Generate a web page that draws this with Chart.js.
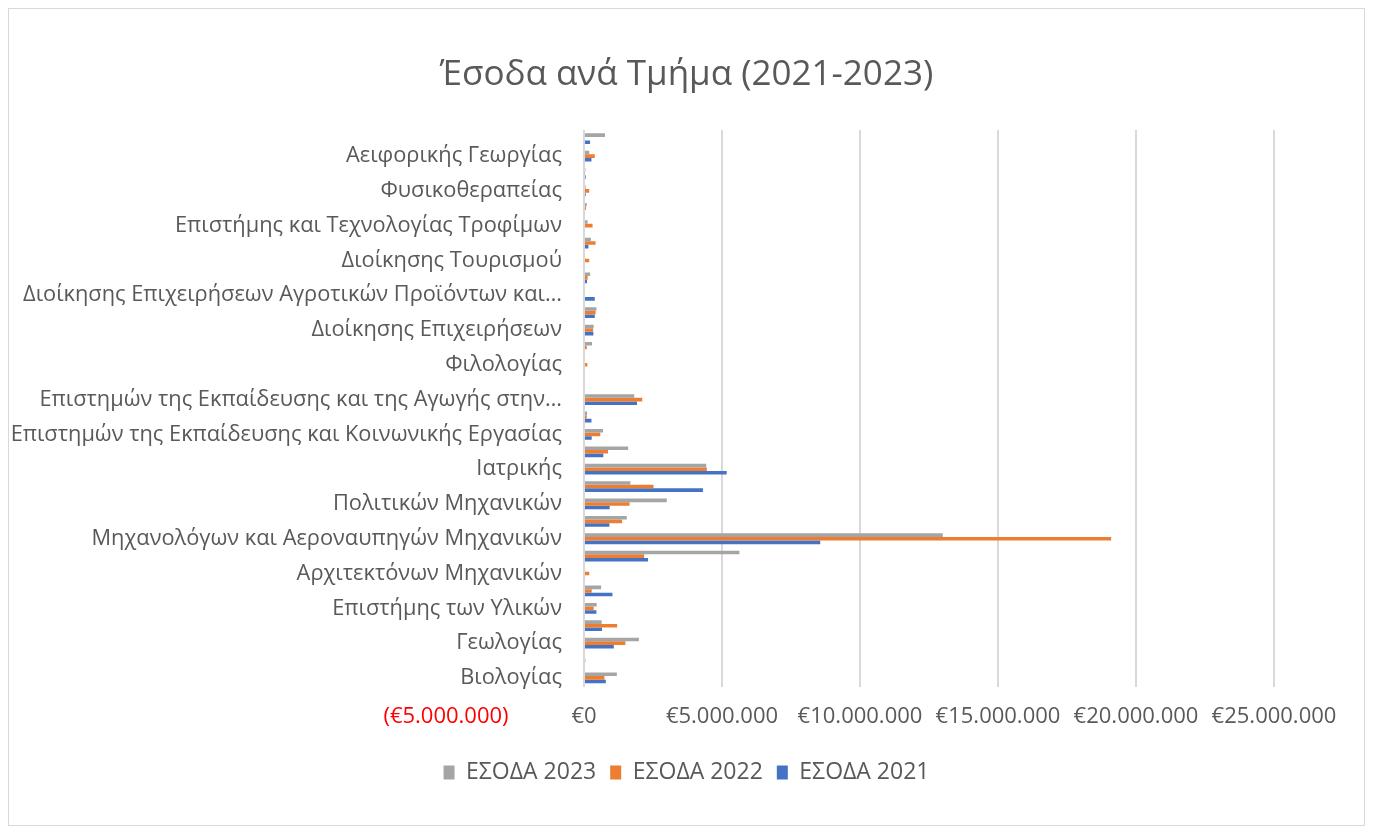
<!DOCTYPE html>
<html>
<head>
<meta charset="utf-8">
<script src="https://cdn.jsdelivr.net/npm/chart.js@4.4.0/dist/chart.umd.min.js"></script>
<style>
  html, body { margin: 0; padding: 0; background: #fff; }
  #wrap { position: relative; width: 1373px; height: 834px; }
  #frame { position: absolute; left: 8px; top: 8px; width: 1355px; height: 816px; border: 1px solid #d9d9d9; }
  canvas { position: absolute; left: 0; top: 0; }
</style>
</head>
<body>
<div id="wrap">
  <div id="frame"></div>
  <canvas id="chart" width="1373" height="834"></canvas>
</div>
<script>
// departments, bottom to top as in the sheet (only every other one gets a label)
const departments = [
    "Βιολογίας",
    "Μαθηματικών",
    "Γεωλογίας",
    "Φυσικής",
    "Επιστήμης των Υλικών",
    "Χημείας",
    "Αρχιτεκτόνων Μηχανικών",
    "Ηλεκτρολόγων Μηχανικών και Τεχνολογίας Υπολογιστών",
    "Μηχανολόγων και Αεροναυπηγών Μηχανικών",
    "Μηχανικών Η/Υ και Πληροφορικής",
    "Πολιτικών Μηχανικών",
    "Χημικών Μηχανικών",
    "Ιατρικής",
    "Φαρμακευτικής",
    "Επιστημών της Εκπαίδευσης και Κοινωνικής Εργασίας",
    "Θεατρικών Σπουδών",
    "Επιστημών της Εκπαίδευσης και της Αγωγής στην Προσχολική Ηλικία",
    "Ιστορίας - Αρχαιολογίας",
    "Φιλολογίας",
    "Φιλοσοφίας",
    "Διοίκησης Επιχειρήσεων",
    "Οικονομικών Επιστημών",
    "Διοίκησης Επιχειρήσεων Αγροτικών Προϊόντων και Τροφίμων",
    "Διαχείρισης Πολιτισμικού Περιβάλλοντος",
    "Διοίκησης Τουρισμού",
    "Μηχανικών Περιβάλλοντος",
    "Επιστήμης και Τεχνολογίας Τροφίμων",
    "Νοσηλευτικής",
    "Φυσικοθεραπείας",
    "Λογοθεραπείας",
    "Αειφορικής Γεωργίας",
    "Αλιείας και Υδατοκαλλιεργειών"
];

const income2023 = [
    1190000, 0, 1990000, 640000, 460000, 620000, 40000, 5630000,
    13000000, 1550000, 3000000, 1680000, 4430000, 1600000, 690000, 110000,
    1820000, 0, 0, 290000, 350000, 450000, 0, 220000,
    0, 250000, 130000, 100000, 60000, 50000, 190000, 760000
];
const income2022 = [
    740000, 50000, 1500000, 1200000, 350000, 280000, 190000, 2180000,
    19100000, 1380000, 1650000, 2520000, 4450000, 870000, 590000, 100000,
    2110000, 0, 120000, 100000, 330000, 420000, 0, 130000,
    190000, 420000, 310000, 70000, 190000, 30000, 390000, 0
];
const income2021 = [
    790000, 0, 1080000, 650000, 450000, 1030000, 40000, 2320000,
    8560000, 920000, 930000, 4310000, 5170000, 700000, 280000, 270000,
    1920000, 0, 0, 0, 340000, 390000, 390000, 110000,
    0, 160000, 0, 0, 60000, 60000, 270000, 220000
];

const seriesNames = ["ΕΣΟΔΑ 2023", "ΕΣΟΔΑ 2022", "ΕΣΟΔΑ 2021"];
const seriesColors = ["#A5A5A5", "#ED7D31", "#4472C4"];

const textColor = "#595959";
const fontFamily = "'Open Sans', 'Noto Sans', sans-serif";

function euro(v) {
    const s = "€" + Math.abs(v).toString().replace(/\B(?=(\d{3})+(?!\d))/g, ".");
    return v < 0 ? "(" + s + ")" : s;
}

// long names get cut at a word, like the sheet does
function shorten(name) {
    if (name.length <= 49) return name;
    let out = "";
    for (const w of name.split(" ")) {
        const next = out ? out + " " + w : w;
        if (next.length > 48) break;
        out = next;
    }
    return out + "…";
}

// empty side axes that only hold space, so title/legend stay centred on the whole chart
function spacer(position, width) {
    return {
        type: "linear",
        position: position,
        grid: { display: false },
        border: { display: false },
        ticks: { display: false },
        afterFit: s => { s.width = width; }
    };
}

const canvas = document.getElementById("chart");

new Chart(canvas, {
    type: "bar",
    data: {
        labels: departments,
        datasets: [
            { label: seriesNames[0], data: income2023, backgroundColor: seriesColors[0], xAxisID: "x", yAxisID: "y" },
            { label: seriesNames[1], data: income2022, backgroundColor: seriesColors[1], xAxisID: "x", yAxisID: "y" },
            { label: seriesNames[2], data: income2021, backgroundColor: seriesColors[2], xAxisID: "x", yAxisID: "y" }
        ]
    },
    options: {
        indexAxis: "y",
        responsive: false,
        maintainAspectRatio: false,
        animation: false,
        categoryPercentage: 0.62,
        barPercentage: 1.0,
        layout: {
            padding: { left: 8, right: 8, top: 20, bottom: 40 }
        },
        scales: {
            x: {
                min: -5000000,
                max: 25000000,
                ticks: {
                    stepSize: 5000000,
                    maxRotation: 0,
                    padding: 17,
                    color: ctx => ctx.tick && ctx.tick.value < 0 ? "#ff0000" : textColor,
                    font: { family: fontFamily, size: 22 },
                    callback: v => euro(v)
                },
                grid: {
                    drawTicks: false,
                    lineWidth: 2,
                    color: ctx => ctx.tick && ctx.tick.value < 0 ? "rgba(0,0,0,0)" : "#d9d9d9"
                },
                border: { display: false }
            },
            y: {
                reverse: true,
                // labels sit just left of the €0 line, over the negative part
                position: { x: -800000 },
                grid: { display: false, drawTicks: false },
                border: { display: false },
                ticks: {
                    autoSkip: false,
                    color: textColor,
                    font: { family: fontFamily, size: 21.8 },
                    callback: function(value, index) {
                        return index % 2 === 0 ? shorten(this.getLabelForValue(value)) : "";
                    }
                }
            },
            padL: spacer("left", 438),
            padR: spacer("right", 91)
        },
        plugins: {
            title: {
                display: true,
                text: "Έσοδα ανά Τμήμα (2021-2023)",
                color: textColor,
                font: { family: fontFamily, size: 35, weight: "normal" },
                padding: { top: 34, bottom: 34 }
            },
            legend: {
                position: "bottom",
                labels: {
                    color: textColor,
                    font: { family: fontFamily, size: 23 },
                    boxWidth: 11,
                    boxHeight: 14,
                    padding: 14
                }
            },
            tooltip: { enabled: false }
        }
    }
});
</script>
</body>
</html>
